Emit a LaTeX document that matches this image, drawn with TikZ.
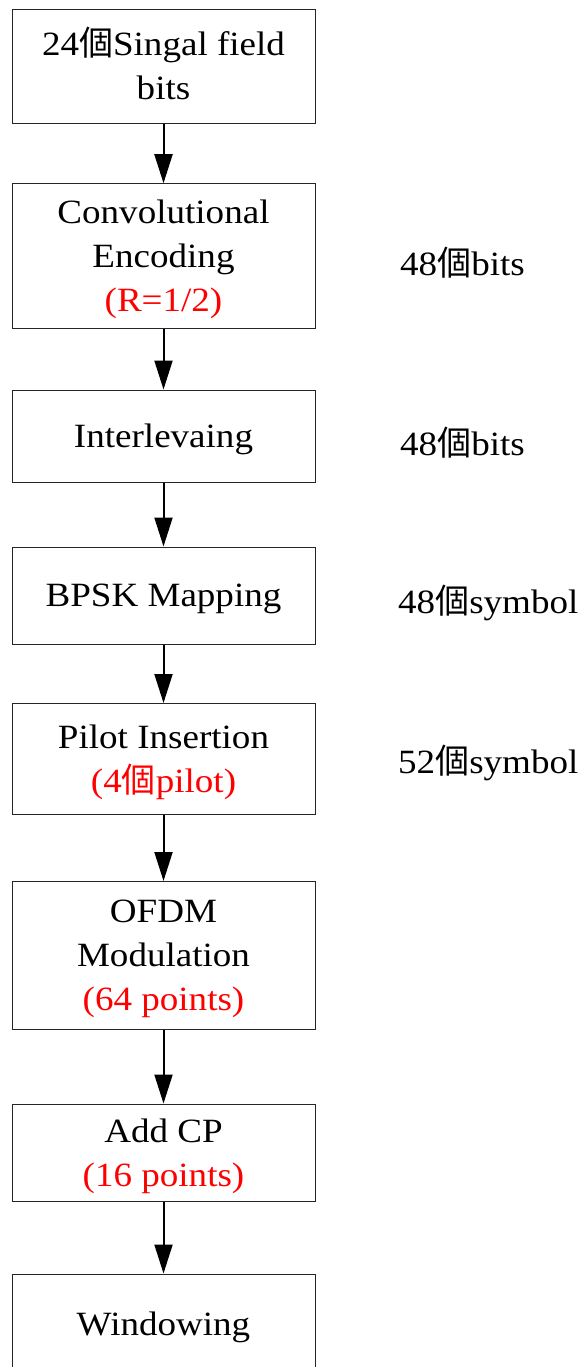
\documentclass[tikz,border=0pt]{standalone}
\usepackage{fontspec}
\setmainfont{Liberation Serif}[FakeStretch=1.09]
\newfontfamily\cjk{Noto Sans CJK TC}
\usetikzlibrary{arrows.meta}
\newcommand{\gechar}{{\cjk 個}}
\begin{document}
\begin{tikzpicture}[x=1pt, y=-1pt,
  stage/.style={draw=black!85, line width=1pt, minimum width=303pt,
    inner sep=0pt, align=center, text depth=0pt,
    font=\fontsize{34}{44}\selectfont},
  flow/.style={line width=2pt, -{Triangle[width=18pt,length=29pt]}},
  note/.style={anchor=base west, inner sep=0pt, font=\fontsize{34}{44}\selectfont}]
\clip (0,0) rectangle (585,1367);

% processing stages
\node[stage, minimum height=114pt, text height=66pt] (s1) at (163.5,67) {24\gechar Singal field\\bits};
\node[stage, minimum height=144.5pt] (s2) at (163.5,256)   {Convolutional\\Encoding\\\textcolor{red}{(R=1/2)}};
\node[stage, minimum height=92pt]    (s3) at (163.5,436)   {Interlevaing};
\node[stage, minimum height=97pt]    (s4) at (163.5,595.5) {BPSK Mapping};
\node[stage, minimum height=110.5pt] (s5) at (163.5,758.75){Pilot Insertion\\\textcolor{red}{(4\gechar pilot)}};
\node[stage, minimum height=147.5pt] (s6) at (163.5,955.25){OFDM\\Modulation\\\textcolor{red}{(64 points)}};
\node[stage, minimum height=97pt]    (s7) at (163.5,1152.5){Add CP\\\textcolor{red}{(16 points)}};
\node[stage, minimum height=100pt]   (s8) at (163.5,1324)  {Windowing};

% data flow
\foreach \a/\b in {s1/s2, s2/s3, s3/s4, s4/s5, s5/s6, s6/s7, s7/s8}
  \draw[flow] (\a.south) -- (\b.north);

% sizes after each stage
\node[note] (n1) at (400,275) {48\gechar bits};
\node[note] (n2) at (400,455) {48\gechar bits};
\node[note] (n3) at (398,613) {48\gechar symbol};
\node[note] (n4) at (398,773) {52\gechar symbol};
\end{tikzpicture}
\end{document}
